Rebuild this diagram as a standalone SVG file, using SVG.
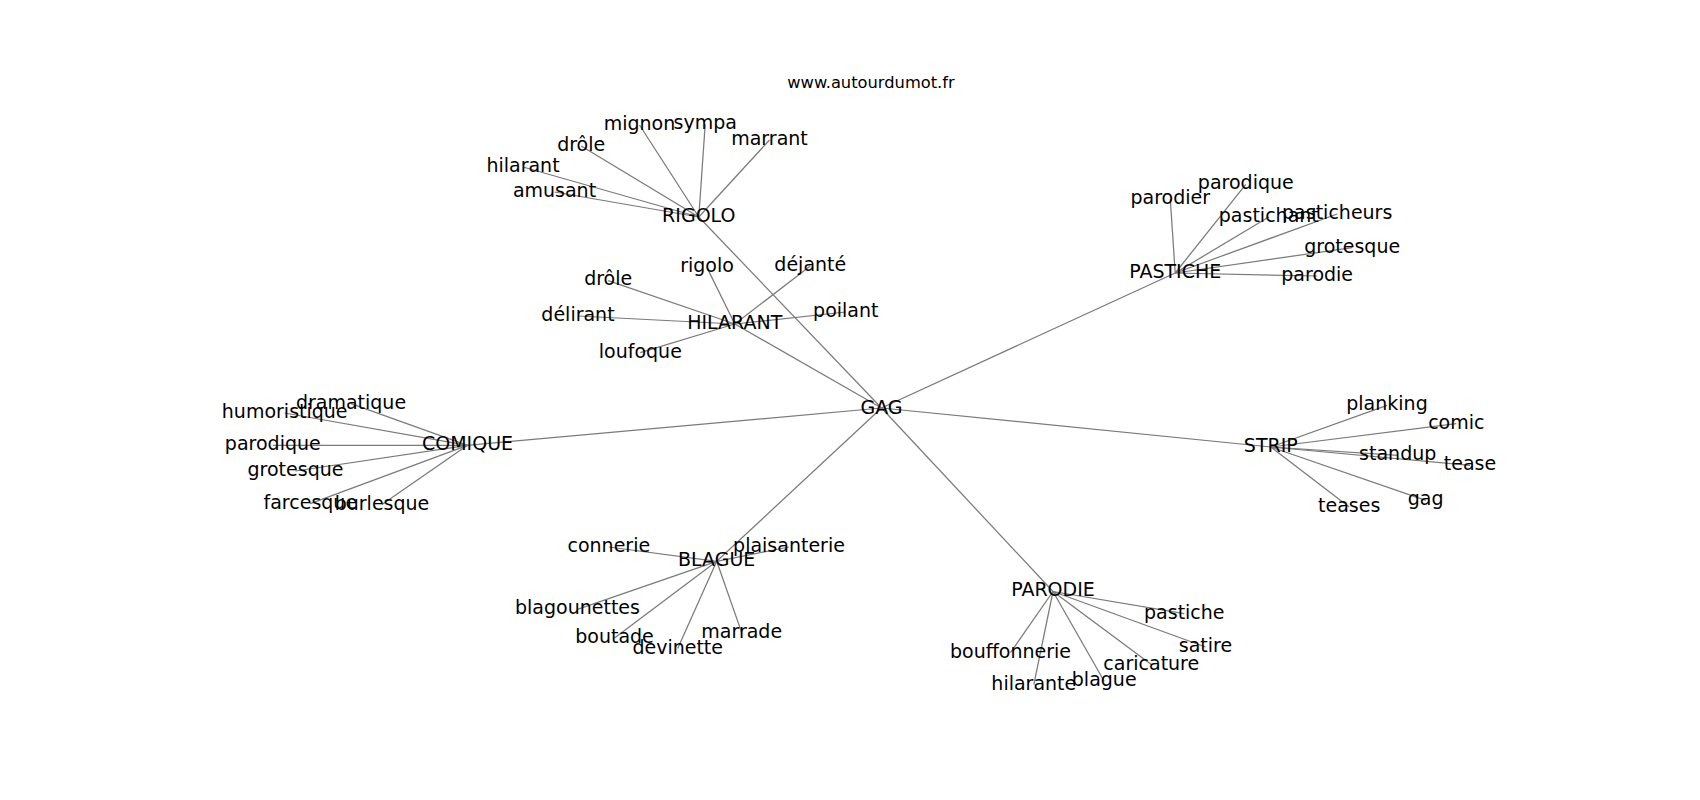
<svg xmlns="http://www.w3.org/2000/svg" width="1700" height="800" viewBox="0 0 1700 800">
<style>
.e{stroke:#7a7a7a;stroke-width:1.25;fill:none}
.n text{font-family:"DejaVu Sans",sans-serif;font-size:19px;fill:#000;text-anchor:middle}
.t{font-family:"DejaVu Sans",sans-serif;font-size:16.3px;fill:#000;text-anchor:middle}
</style>
<rect width="1700" height="800" fill="#fff"/>
<text class="t" x="871" y="88">www.autourdumot.fr</text>
<g id="edges" class="e">
<line x1="881.5" y1="408" x2="698.8" y2="217"/>
<line x1="881.5" y1="408" x2="734.8" y2="324"/>
<line x1="881.5" y1="408" x2="1175.2" y2="273"/>
<line x1="881.5" y1="408" x2="467.5" y2="445.3"/>
<line x1="881.5" y1="408" x2="1270.8" y2="447"/>
<line x1="881.5" y1="408" x2="716.7" y2="561.3"/>
<line x1="881.5" y1="408" x2="1053" y2="591.5"/>
<line x1="698.8" y1="217" x2="639.5" y2="125"/>
<line x1="698.8" y1="217" x2="705.2" y2="124.3"/>
<line x1="698.8" y1="217" x2="769.5" y2="140"/>
<line x1="698.8" y1="217" x2="581.2" y2="146"/>
<line x1="698.8" y1="217" x2="523" y2="167"/>
<line x1="698.8" y1="217" x2="554.5" y2="192"/>
<line x1="734.8" y1="324" x2="707" y2="267.6"/>
<line x1="734.8" y1="324" x2="810.3" y2="266"/>
<line x1="734.8" y1="324" x2="608.2" y2="280.6"/>
<line x1="734.8" y1="324" x2="578" y2="316"/>
<line x1="734.8" y1="324" x2="845.8" y2="312"/>
<line x1="734.8" y1="324" x2="640.3" y2="352.6"/>
<line x1="1175.2" y1="273" x2="1245.8" y2="184.3"/>
<line x1="1175.2" y1="273" x2="1170.3" y2="199.3"/>
<line x1="1175.2" y1="273" x2="1268.8" y2="217"/>
<line x1="1175.2" y1="273" x2="1337.2" y2="214"/>
<line x1="1175.2" y1="273" x2="1352.2" y2="247.6"/>
<line x1="1175.2" y1="273" x2="1317.2" y2="276"/>
<line x1="1270.8" y1="447" x2="1387" y2="405.3"/>
<line x1="1270.8" y1="447" x2="1456.3" y2="423.6"/>
<line x1="1270.8" y1="447" x2="1397.7" y2="455.3"/>
<line x1="1270.8" y1="447" x2="1470" y2="465.3"/>
<line x1="1270.8" y1="447" x2="1349.2" y2="507"/>
<line x1="1270.8" y1="447" x2="1425.7" y2="500.3"/>
<line x1="467.5" y1="445.3" x2="351" y2="403.6"/>
<line x1="467.5" y1="445.3" x2="284.7" y2="413"/>
<line x1="467.5" y1="445.3" x2="272.8" y2="445.3"/>
<line x1="467.5" y1="445.3" x2="295.5" y2="471"/>
<line x1="467.5" y1="445.3" x2="310.3" y2="503.6"/>
<line x1="467.5" y1="445.3" x2="382" y2="504.6"/>
<line x1="716.7" y1="561.3" x2="608.8" y2="547"/>
<line x1="716.7" y1="561.3" x2="789" y2="547"/>
<line x1="716.7" y1="561.3" x2="577.5" y2="609.3"/>
<line x1="716.7" y1="561.3" x2="614.5" y2="638"/>
<line x1="716.7" y1="561.3" x2="677.7" y2="648.6"/>
<line x1="716.7" y1="561.3" x2="741.7" y2="632.6"/>
<line x1="1053" y1="591.5" x2="1184.3" y2="613.6"/>
<line x1="1053" y1="591.5" x2="1205.5" y2="647"/>
<line x1="1053" y1="591.5" x2="1010.5" y2="652.6"/>
<line x1="1053" y1="591.5" x2="1151.3" y2="664.6"/>
<line x1="1053" y1="591.5" x2="1033.8" y2="684.6"/>
<line x1="1053" y1="591.5" x2="1104.2" y2="681.3"/>
</g>
<g class="n">
<g id="gag"><text x="881.5" y="413.5">GAG</text></g>
<g id="rigolo-hub"><text x="698.8" y="222">RIGOLO</text></g>
<g id="hilarant-hub"><text x="734.8" y="329">HILARANT</text></g>
<g id="pastiche-hub"><text x="1175.2" y="278">PASTICHE</text></g>
<g id="comique-hub"><text x="467.5" y="450">COMIQUE</text></g>
<g id="strip-hub"><text x="1270.8" y="452">STRIP</text></g>
<g id="blague-hub"><text x="716.7" y="566">BLAGUE</text></g>
<g id="parodie-hub"><text x="1053" y="596">PARODIE</text></g>

<g id="r-mignon"><text x="639.5" y="130">mignon</text></g>
<g id="r-sympa"><text x="705.2" y="129">sympa</text></g>
<g id="r-marrant"><text x="769.5" y="145">marrant</text></g>
<g id="r-drole"><text x="581.2" y="151">drôle</text></g>
<g id="r-hilarant"><text x="523" y="172">hilarant</text></g>
<g id="r-amusant"><text x="554.5" y="197">amusant</text></g>

<g id="h-rigolo"><text x="707" y="272">rigolo</text></g>
<g id="h-dejante"><text x="810.3" y="271">déjanté</text></g>
<g id="h-drole"><text x="608.2" y="285">drôle</text></g>
<g id="h-delirant"><text x="578" y="321">délirant</text></g>
<g id="h-poilant"><text x="845.8" y="317">poilant</text></g>
<g id="h-loufoque"><text x="640.3" y="357.5">loufoque</text></g>

<g id="p-parodique"><text x="1245.8" y="189">parodique</text></g>
<g id="p-parodier"><text x="1170.3" y="204">parodier</text></g>
<g id="p-pastichant"><text x="1268.8" y="222">pastichant</text></g>
<g id="p-pasticheurs"><text x="1337.2" y="219">pasticheurs</text></g>
<g id="p-grotesque"><text x="1352.2" y="253">grotesque</text></g>
<g id="p-parodie"><text x="1317.2" y="281">parodie</text></g>

<g id="s-planking"><text x="1387" y="410">planking</text></g>
<g id="s-comic"><text x="1456.3" y="428.5">comic</text></g>
<g id="s-standup"><text x="1397.7" y="460">standup</text></g>
<g id="s-tease"><text x="1470" y="470">tease</text></g>
<g id="s-teases"><text x="1349.2" y="512">teases</text></g>
<g id="s-gag"><text x="1425.7" y="505">gag</text></g>

<g id="c-dramatique"><text x="351" y="408.5">dramatique</text></g>
<g id="c-humoristique"><text x="284.7" y="418">humoristique</text></g>
<g id="c-parodique"><text x="272.8" y="450">parodique</text></g>
<g id="c-grotesque"><text x="295.5" y="476">grotesque</text></g>
<g id="c-farcesque"><text x="310.3" y="508.5">farcesque</text></g>
<g id="c-burlesque"><text x="382" y="509.5">burlesque</text></g>

<g id="b-connerie"><text x="608.8" y="552">connerie</text></g>
<g id="b-plaisanterie"><text x="789" y="552">plaisanterie</text></g>
<g id="b-blagounettes"><text x="577.5" y="614">blagounettes</text></g>
<g id="b-boutade"><text x="614.5" y="643">boutade</text></g>
<g id="b-devinette"><text x="677.7" y="653.5">devinette</text></g>
<g id="b-marrade"><text x="741.7" y="637.5">marrade</text></g>

<g id="d-pastiche"><text x="1184.3" y="618.5">pastiche</text></g>
<g id="d-satire"><text x="1205.5" y="652">satire</text></g>
<g id="d-bouffonnerie"><text x="1010.5" y="657.5">bouffonnerie</text></g>
<g id="d-caricature"><text x="1151.3" y="669.5">caricature</text></g>
<g id="d-hilarante"><text x="1033.8" y="689.5">hilarante</text></g>
<g id="d-blague"><text x="1104.2" y="686">blague</text></g>
</g>
</svg>
